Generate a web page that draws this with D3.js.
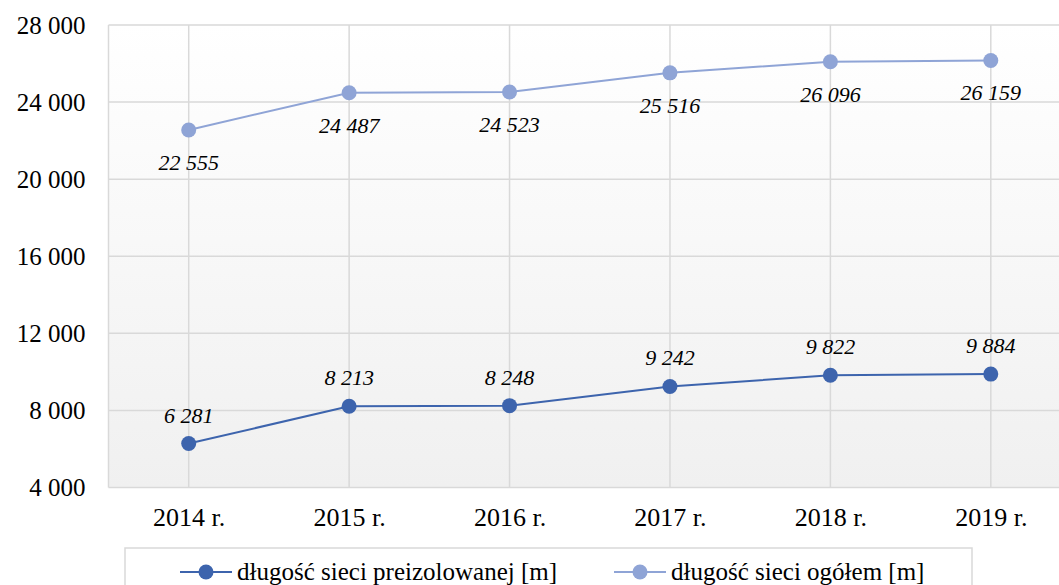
<!DOCTYPE html>
<html lang="pl">
<head>
  <meta charset="utf-8">
  <title>Długość sieci</title>
  <script src="https://cdn.jsdelivr.net/npm/d3@7"></script>
  <style>
    body { margin: 0; background: #fff; }
    text { font-family: "Liberation Serif", serif; fill: #000; }
    .tick text { font-size: 25px; }
    .x-axis .tick text { font-size: 26px; }
    .label { font-size: 22px; font-style: italic; }
    .legend text { font-size: 25px; }
  </style>
</head>
<body>
<script>
  var years = ["2014 r.", "2015 r.", "2016 r.", "2017 r.", "2018 r.", "2019 r."];
  var preizolowana = [6281, 8213, 8248, 9242, 9822, 9884];
  var ogolem = [22555, 24487, 24523, 25516, 26096, 26159];
  var yTicks = [4000, 8000, 12000, 16000, 20000, 24000, 28000];

  var darkBlue = "#3d64ad",
    lightBlue = "#8fa4d6";

  var width = 1059, height = 585;
  var plot = { left: 108.5, right: 1071, top: 25, bottom: 487.5 };

  var svg = d3.select("body").append("svg")
    .attr("width", width)
    .attr("height", height);

  var x = d3.scalePoint()
    .domain(years)
    .range([plot.left, plot.right])
    .padding(0.5);

  var y = d3.scaleLinear()
    .domain([4000, 28000])
    .range([plot.bottom, plot.top]);

  var fmt = function(v) { return d3.format(",")(v).replace(",", " "); };

  var grad = svg.append("defs").append("linearGradient")
    .attr("id", "bg")
    .attr("x1", 0).attr("y1", 0).attr("x2", 0).attr("y2", 1);
  grad.append("stop").attr("offset", "0%").attr("stop-color", "#ffffff");
  grad.append("stop").attr("offset", "100%").attr("stop-color", "#f0f0f0");

  svg.append("rect")
    .attr("x", plot.left).attr("y", plot.top)
    .attr("width", plot.right - plot.left).attr("height", plot.bottom - plot.top)
    .attr("fill", "url(#bg)");

  // horizontal grid
  svg.append("g").selectAll("line")
    .data(yTicks)
    .enter().append("line")
    .attr("x1", plot.left).attr("x2", plot.right)
    .attr("y1", function(d) { return y(d); })
    .attr("y2", function(d) { return y(d); })
    .attr("stroke", "#d9d9d9").attr("stroke-width", 1.5);

  // vertical grid
  svg.append("g").selectAll("line")
    .data(years)
    .enter().append("line")
    .attr("x1", function(d) { return x(d); })
    .attr("x2", function(d) { return x(d); })
    .attr("y1", plot.top).attr("y2", plot.bottom)
    .attr("stroke", "#d9d9d9").attr("stroke-width", 1.5);

  svg.append("line")
    .attr("x1", plot.left).attr("x2", plot.left)
    .attr("y1", plot.top).attr("y2", plot.bottom)
    .attr("stroke", "#d9d9d9").attr("stroke-width", 1.5);

  // y axis
  var yAxis = svg.append("g")
    .attr("transform", "translate(" + plot.left + ",0)")
    .call(d3.axisLeft(y).tickValues(yTicks).tickFormat(fmt).tickSize(0).tickPadding(23));
  yAxis.select(".domain").remove();

  // x axis
  var xAxis = svg.append("g")
    .attr("class", "x-axis")
    .attr("transform", "translate(0," + plot.bottom + ")")
    .call(d3.axisBottom(x).tickSize(0).tickPadding(20));
  xAxis.select(".domain").remove();

  var line = d3.line()
    .x(function(d, i) { return x(years[i]); })
    .y(function(d) { return y(d); });

  function drawSeries(values, color, dy) {
    svg.append("path")
      .datum(values)
      .attr("fill", "none")
      .attr("stroke", color)
      .attr("stroke-width", 2)
      .attr("d", line);
    svg.append("g").selectAll("circle")
      .data(values)
      .enter().append("circle")
      .attr("cx", function(d, i) { return x(years[i]); })
      .attr("cy", function(d) { return y(d); })
      .attr("r", 7.5)
      .attr("fill", color);
    svg.append("g").selectAll("text")
      .data(values)
      .enter().append("text")
      .attr("class", "label")
      .attr("x", function(d, i) { return x(years[i]); })
      .attr("y", function(d) { return y(d) + dy; })
      .attr("text-anchor", "middle")
      .text(fmt);
  }

  drawSeries(ogolem, lightBlue, 40);
  drawSeries(preizolowana, darkBlue, -21);

  // legend
  var legend = svg.append("g").attr("class", "legend");
  legend.append("rect")
    .attr("x", 125).attr("y", 548)
    .attr("width", 847).attr("height", 60)
    .attr("fill", "#fff")
    .attr("stroke", "#d9d9d9").attr("stroke-width", 1.5);

  var items = [
    { name: "długość sieci preizolowanej [m]", color: darkBlue, x: 180 },
    { name: "długość sieci ogółem [m]", color: lightBlue, x: 614 }
  ];
  var li = legend.selectAll("g.item")
    .data(items)
    .enter().append("g")
    .attr("class", "item")
    .attr("transform", function(d) { return "translate(" + d.x + ",572)"; });
  li.append("line")
    .attr("x1", 0).attr("x2", 52)
    .attr("stroke", function(d) { return d.color; })
    .attr("stroke-width", 2);
  li.append("circle")
    .attr("cx", 26).attr("r", 7.5)
    .attr("fill", function(d) { return d.color; });
  li.append("text")
    .attr("x", 57).attr("y", 8)
    .text(function(d) { return d.name; });
</script>
</body>
</html>
